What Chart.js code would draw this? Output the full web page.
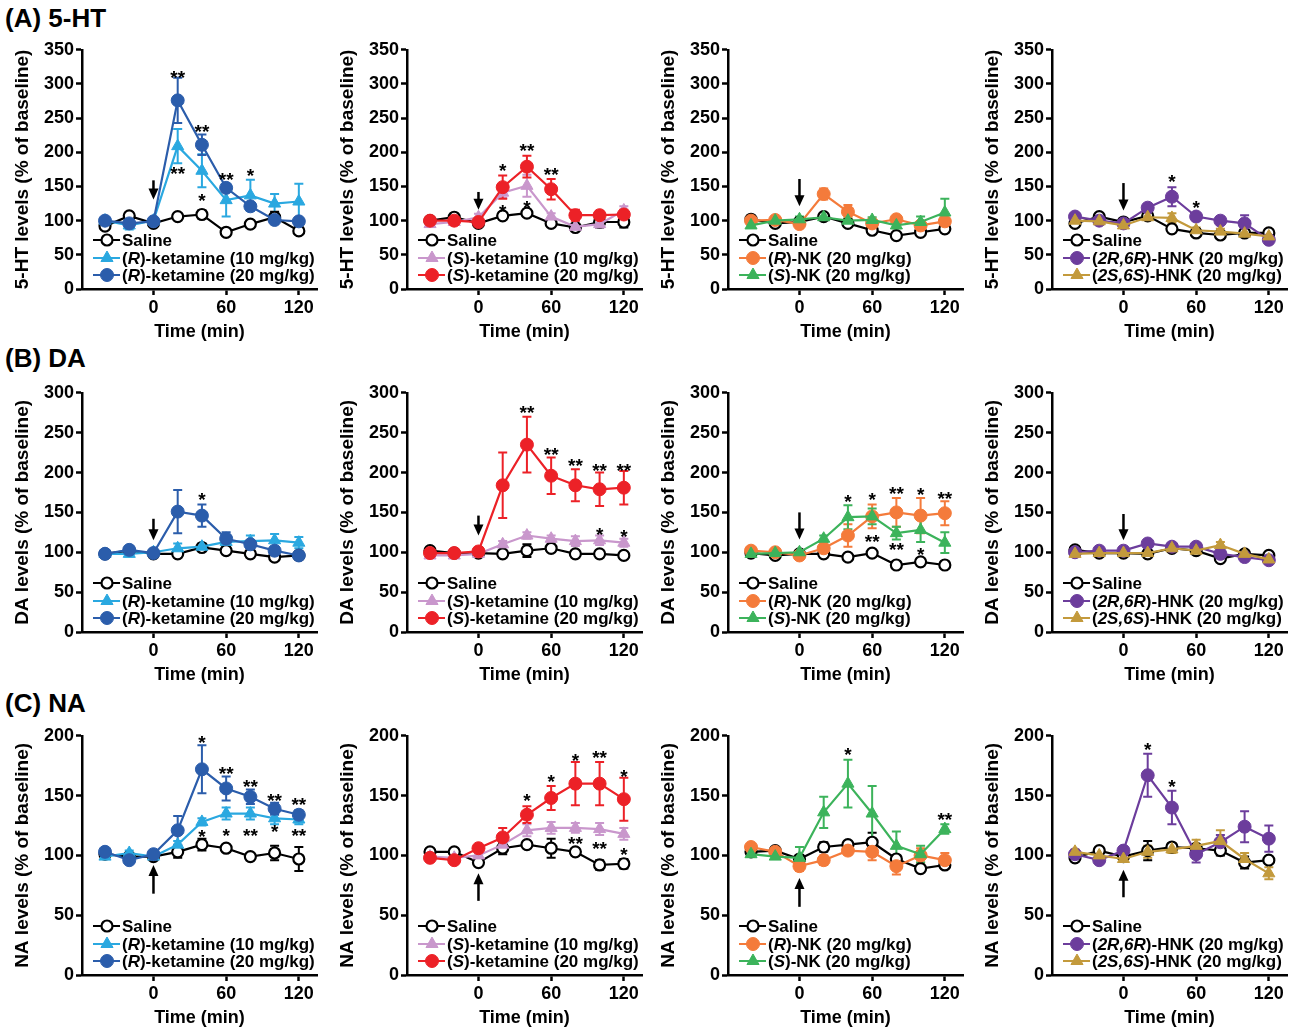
<!DOCTYPE html>
<html>
<head>
<meta charset="utf-8">
<script src="https://cdn.jsdelivr.net/npm/chart.js@4.4.1/dist/chart.umd.min.js"></script>
<style>
body { margin: 0; background: #fff; width: 1298px; height: 1031px; position: relative; overflow: hidden; font-family: "Liberation Sans", Arial, sans-serif; }
.lab { position: absolute; left: 5px; font-weight: bold; font-size: 26px; line-height: 28px; }
canvas { position: absolute; }
</style>
</head>
<body>
<div class="lab" style="top:4px">(A) 5-HT</div>
<div class="lab" style="top:344px">(B) DA</div>
<div class="lab" style="top:689px">(C) NA</div>
<script>
// sampling times (min) and axis ticks
const times = [-40, -20, 0, 20, 40, 60, 80, 100, 120];
const xTicks = [0, 60, 120];
const yMaxByRow = [350, 300, 200];
const yTitles = ["5-HT levels (% of baseline)", "DA levels (% of baseline)", "NA levels (% of baseline)"];

// ---- (A) 5-HT ----
const htRketSaline = [92, 107, 96, 106, 109, 83, 95, 105, 85];
const htRketSalineSem = [3, 3, 3, 4, 6, 3, 3, 8, 3];
const htRket10 = [100, 93, 100, 209, 173, 130, 137, 125, 128];
const htRket10Sem = [4, 6, 3, 25, 24, 24, 23, 14, 26];
const htRket20 = [100, 96, 99, 276, 211, 148, 121, 101, 99];
const htRket20Sem = [4, 3, 3, 33, 15, 5, 4, 4, 4];
const htRketStars = [[20, 316, "**"], [20, 175, "**"], [40, 237, "**"], [40, 136, "*"], [60, 166, "**"], [80, 172, "*"]];

const htSketSaline = [100, 105, 96, 107, 111, 96, 90, 98, 98];
const htSketSalineSem = [3, 3, 3, 4, 4, 4, 5, 8, 8];
const htSket10 = [95, 98, 105, 141, 151, 106, 91, 95, 115];
const htSket10Sem = [4, 3, 5, 8, 16, 5, 4, 5, 6];
const htSket20 = [100, 100, 98, 149, 179, 146, 108, 108, 109];
const htSket20Sem = [4, 3, 3, 17, 16, 15, 8, 6, 7];
const htSketStars = [[20, 179, "*"], [20, 119, "*"], [40, 208, "**"], [40, 125, "*"], [60, 173, "**"]];

const htNkSaline = [102, 96, 98, 106, 96, 86, 78, 83, 88];
const htNkSalineSem = [3, 3, 3, 3, 3, 3, 3, 4, 3];
const htRnk = [100, 101, 95, 139, 113, 96, 102, 93, 99];
const htRnkSem = [3, 3, 3, 8, 10, 4, 4, 4, 4];
const htSnk = [93, 100, 102, 105, 100, 101, 93, 98, 112];
const htSnkSem = [3, 3, 4, 4, 3, 4, 4, 8, 20];
const htNkStars = [];

const htHnkSaline = [96, 106, 98, 107, 88, 82, 79, 82, 82];
const htHnkSalineSem = [3, 3, 3, 3, 3, 3, 3, 3, 3];
const htRrHnk = [106, 100, 96, 119, 135, 106, 100, 96, 72];
const htRrHnkSem = [4, 3, 3, 4, 14, 4, 4, 12, 5];
const htSsHnk = [100, 99, 93, 105, 104, 86, 84, 81, 77];
const htSsHnkSem = [3, 3, 3, 4, 7, 4, 4, 3, 4];
const htHnkStars = [[40, 163, "*"], [60, 125, "*"]];

// ---- (B) DA ----
const daRketSaline = [98, 102, 98, 98, 106, 102, 98, 94, 96];
const daRketSalineSem = [2, 2, 2, 2, 3, 3, 3, 4, 5];
const daRket10 = [98, 98, 100, 105, 107, 113, 114, 115, 112];
const daRket10Sem = [2, 3, 3, 6, 4, 6, 7, 8, 7];
const daRket20 = [98, 103, 99, 151, 146, 117, 110, 102, 96];
const daRket20Sem = [2, 3, 2, 27, 14, 8, 5, 4, 4];
const daRketStars = [[40, 171, "*"]];

const daSketSaline = [102, 99, 99, 98, 102, 105, 98, 98, 96];
const daSketSalineSem = [2, 2, 2, 2, 8, 3, 2, 2, 2];
const daSket10 = [96, 96, 98, 110, 121, 117, 114, 115, 112];
const daSket10Sem = [3, 3, 3, 4, 4, 4, 6, 6, 5];
const daSket20 = [99, 99, 101, 184, 235, 196, 184, 179, 181];
const daSket20Sem = [3, 3, 3, 41, 35, 23, 20, 21, 21];
const daSketStars = [[40, 280, "**"], [60, 228, "**"], [80, 214, "**"], [100, 207, "**"], [120, 207, "**"], [100, 127, "*"], [120, 125, "*"]];

const daNkSaline = [99, 96, 98, 98, 94, 99, 84, 88, 84];
const daNkSalineSem = [2, 2, 2, 2, 2, 2, 2, 2, 2];
const daRnk = [102, 100, 96, 105, 121, 145, 150, 146, 149];
const daRnkSem = [2, 2, 2, 3, 14, 15, 18, 22, 15];
const daSnk = [98, 99, 100, 117, 144, 145, 124, 128, 112];
const daSnkSem = [2, 2, 2, 4, 15, 10, 8, 15, 13];
const daNkStars = [[40, 169, "*"], [60, 171, "*"], [80, 179, "**"], [100, 177, "*"], [120, 173, "**"], [60, 119, "**"], [80, 109, "**"], [100, 102, "*"]];

const daHnkSaline = [103, 99, 99, 98, 105, 102, 92, 98, 96];
const daHnkSalineSem = [2, 2, 2, 2, 2, 2, 3, 2, 2];
const daRrHnk = [100, 102, 102, 111, 107, 107, 98, 94, 90];
const daRrHnkSem = [2, 2, 2, 3, 3, 3, 3, 5, 4];
const daSsHnk = [98, 99, 99, 99, 105, 102, 109, 98, 91];
const daSsHnkSem = [2, 2, 2, 2, 3, 3, 4, 3, 5];
const daHnkStars = [];

// ---- (C) NA ----
const naRketSaline = [101, 99, 99, 103, 109, 106, 99, 102, 97];
const naRketSalineSem = [2, 2, 2, 5, 5, 2, 3, 6, 10];
const naRket10 = [99, 102, 99, 109, 128, 135, 135, 131, 130];
const naRket10Sem = [2, 2, 2, 3, 3, 5, 5, 5, 4];
const naRket20 = [103, 96, 101, 121, 172, 156, 149, 139, 134];
const naRket20Sem = [2, 2, 2, 12, 20, 10, 6, 5, 4];
const naRketStars = [[40, 198, "*"], [60, 172, "**"], [80, 161, "**"], [100, 149, "**"], [120, 146, "**"],
  [40, 119, "*"], [60, 120, "*"], [80, 120, "**"], [100, 123, "*"], [120, 120, "**"]];

const naSketSaline = [103, 103, 94, 106, 109, 106, 103, 92, 93];
const naSketSalineSem = [2, 2, 2, 5, 2, 8, 2, 4, 4];
const naSket10 = [99, 98, 100, 109, 121, 123, 123, 122, 118];
const naSket10Sem = [2, 2, 2, 3, 5, 5, 4, 5, 5];
const naSket20 = [98, 96, 106, 115, 134, 148, 160, 160, 147];
const naSket20Sem = [2, 2, 2, 8, 7, 10, 18, 18, 18];
const naSketStars = [[40, 149, "*"], [60, 165, "*"], [80, 183, "*"], [100, 185, "**"], [120, 169, "*"],
  [80, 113, "**"], [100, 109, "**"], [120, 104, "*"]];

const naNkSaline = [103, 104, 97, 107, 109, 111, 97, 89, 92];
const naNkSalineSem = [2, 2, 2, 4, 2, 8, 2, 2, 2];
const naRnk = [107, 103, 91, 96, 104, 103, 91, 100, 96];
const naRnkSem = [2, 2, 4, 4, 3, 7, 7, 6, 6];
const naSnk = [101, 99, 98, 136, 160, 135, 108, 101, 122];
const naSnkSem = [2, 2, 9, 13, 20, 23, 12, 7, 4];
const naNkStars = [[40, 188, "*"], [120, 133, "**"]];

const naHnkSaline = [98, 104, 99, 104, 107, 106, 104, 94, 96];
const naHnkSalineSem = [2, 2, 2, 8, 2, 2, 4, 5, 2];
const naRrHnk = [101, 96, 104, 167, 140, 101, 111, 124, 114];
const naRrHnkSem = [2, 2, 2, 18, 14, 7, 6, 13, 11];
const naSsHnk = [103, 100, 97, 103, 105, 108, 112, 97, 85];
const naSsHnkSem = [2, 2, 2, 5, 3, 5, 9, 5, 5];
const naHnkStars = [[20, 192, "*"], [40, 161, "*"]];

// injection arrows [tail level, tip level]
const arrowsA = [[159, 131], [142, 116], [161, 121], [155, 115]];
const arrowsB = [[142, 115], [146, 121], [150, 116], [148, 115]];
const arrowsC = [[68, 92], [62, 85], [57, 81], [65, 88]];

// legend labels ('|' toggles italic)
const lblSaline = "Saline";
const lblRket10 = "(|R|)-ketamine (10 mg/kg)";
const lblRket20 = "(|R|)-ketamine (20 mg/kg)";
const lblSket10 = "(|S|)-ketamine (10 mg/kg)";
const lblSket20 = "(|S|)-ketamine (20 mg/kg)";
const lblRnk = "(|R|)-NK (20 mg/kg)";
const lblSnk = "(|S|)-NK (20 mg/kg)";
const lblRrHnk = "(|2R,6R|)-HNK (20 mg/kg)";
const lblSsHnk = "(|2S,6S|)-HNK (20 mg/kg)";

const styles = {
  saline: { color: "#000000", fill: "#ffffff", shape: "circle", r: 5.5 },
  rket10: { color: "#2aa8e0", fill: "#2aa8e0", shape: "triangle", r: 7 },
  rket20: { color: "#2b5dab", fill: "#2b5dab", shape: "circle", r: 6.5 },
  sket10: { color: "#c997cc", fill: "#c997cc", shape: "triangle", r: 7 },
  sket20: { color: "#ec2127", fill: "#ec2127", shape: "circle", r: 6.5 },
  rnk: { color: "#f47b3b", fill: "#f47b3b", shape: "circle", r: 6.5 },
  snk: { color: "#3cb35b", fill: "#3cb35b", shape: "triangle", r: 7 },
  rrhnk: { color: "#6c3d9c", fill: "#6c3d9c", shape: "circle", r: 6.5 },
  sshnk: { color: "#c39a3c", fill: "#c39a3c", shape: "triangle", r: 7 }
};

const axisX = [82, 407, 728, 1052];
const plotTop = [49, 392, 735];
const FONT = '"Liberation Sans", Arial, sans-serif';

const panels = [
  { row: 0, col: 0, stars: htRketStars, arrow: arrowsA[0], series: [
    ["saline", lblSaline, htRketSaline, htRketSalineSem], ["rket10", lblRket10, htRket10, htRket10Sem], ["rket20", lblRket20, htRket20, htRket20Sem]] },
  { row: 0, col: 1, stars: htSketStars, arrow: arrowsA[1], series: [
    ["saline", lblSaline, htSketSaline, htSketSalineSem], ["sket10", lblSket10, htSket10, htSket10Sem], ["sket20", lblSket20, htSket20, htSket20Sem]] },
  { row: 0, col: 2, stars: htNkStars, arrow: arrowsA[2], series: [
    ["saline", lblSaline, htNkSaline, htNkSalineSem], ["rnk", lblRnk, htRnk, htRnkSem], ["snk", lblSnk, htSnk, htSnkSem]] },
  { row: 0, col: 3, stars: htHnkStars, arrow: arrowsA[3], series: [
    ["saline", lblSaline, htHnkSaline, htHnkSalineSem], ["rrhnk", lblRrHnk, htRrHnk, htRrHnkSem], ["sshnk", lblSsHnk, htSsHnk, htSsHnkSem]] },
  { row: 1, col: 0, stars: daRketStars, arrow: arrowsB[0], series: [
    ["saline", lblSaline, daRketSaline, daRketSalineSem], ["rket10", lblRket10, daRket10, daRket10Sem], ["rket20", lblRket20, daRket20, daRket20Sem]] },
  { row: 1, col: 1, stars: daSketStars, arrow: arrowsB[1], series: [
    ["saline", lblSaline, daSketSaline, daSketSalineSem], ["sket10", lblSket10, daSket10, daSket10Sem], ["sket20", lblSket20, daSket20, daSket20Sem]] },
  { row: 1, col: 2, stars: daNkStars, arrow: arrowsB[2], series: [
    ["saline", lblSaline, daNkSaline, daNkSalineSem], ["rnk", lblRnk, daRnk, daRnkSem], ["snk", lblSnk, daSnk, daSnkSem]] },
  { row: 1, col: 3, stars: daHnkStars, arrow: arrowsB[3], series: [
    ["saline", lblSaline, daHnkSaline, daHnkSalineSem], ["rrhnk", lblRrHnk, daRrHnk, daRrHnkSem], ["sshnk", lblSsHnk, daSsHnk, daSsHnkSem]] },
  { row: 2, col: 0, stars: naRketStars, arrow: arrowsC[0], series: [
    ["saline", lblSaline, naRketSaline, naRketSalineSem], ["rket10", lblRket10, naRket10, naRket10Sem], ["rket20", lblRket20, naRket20, naRket20Sem]] },
  { row: 2, col: 1, stars: naSketStars, arrow: arrowsC[1], series: [
    ["saline", lblSaline, naSketSaline, naSketSalineSem], ["sket10", lblSket10, naSket10, naSket10Sem], ["sket20", lblSket20, naSket20, naSket20Sem]] },
  { row: 2, col: 2, stars: naNkStars, arrow: arrowsC[2], series: [
    ["saline", lblSaline, naNkSaline, naNkSalineSem], ["rnk", lblRnk, naRnk, naRnkSem], ["snk", lblSnk, naSnk, naSnkSem]] },
  { row: 2, col: 3, stars: naHnkStars, arrow: arrowsC[3], series: [
    ["saline", lblSaline, naHnkSaline, naHnkSalineSem], ["rrhnk", lblRrHnk, naRrHnk, naRrHnkSem], ["sshnk", lblSsHnk, naSsHnk, naSsHnkSem]] }
];

function drawRich(ctx, text, x, y) {
  text.split("|").forEach((seg, k) => {
    ctx.font = (k % 2 ? "italic " : "") + "bold 17px " + FONT;
    ctx.fillText(seg, x, y);
    x += ctx.measureText(seg).width;
  });
}

function drawArrow(ctx, x, y0, y1) {
  const dir = y1 > y0 ? 1 : -1;
  ctx.save();
  ctx.strokeStyle = "#000";
  ctx.fillStyle = "#000";
  ctx.lineWidth = 2.5;
  ctx.beginPath();
  ctx.moveTo(x, y0);
  ctx.lineTo(x, y1 - dir * 8);
  ctx.stroke();
  ctx.beginPath();
  ctx.moveTo(x, y1);
  ctx.lineTo(x - 5, y1 - dir * 11);
  ctx.lineTo(x + 5, y1 - dir * 11);
  ctx.closePath();
  ctx.fill();
  ctx.restore();
}

const extras = {
  id: "extras",
  beforeDatasetsDraw(chart) {
    const { ctx, scales: { x, y } } = chart;
    chart.data.datasets.forEach(ds => {
      ctx.save();
      ctx.strokeStyle = ds.borderColor;
      ctx.lineWidth = 2;
      ds.sem.forEach((e, i) => {
        const px = x.getPixelForValue(ds.data[i].x);
        const top = y.getPixelForValue(ds.data[i].y + e);
        const bot = y.getPixelForValue(ds.data[i].y - e);
        ctx.beginPath();
        ctx.moveTo(px, top); ctx.lineTo(px, bot);
        ctx.moveTo(px - 4.5, top); ctx.lineTo(px + 4.5, top);
        ctx.moveTo(px - 4.5, bot); ctx.lineTo(px + 4.5, bot);
        ctx.stroke();
      });
      ctx.restore();
    });
  },
  afterDatasetsDraw(chart) {
    const { ctx, chartArea, scales: { x, y } } = chart;
    const p = chart.options.plugins.extras;
    // significance marks
    ctx.save();
    ctx.fillStyle = "#000";
    ctx.font = "bold 19px " + FONT;
    ctx.textAlign = "center";
    ctx.textBaseline = "alphabetic";
    p.stars.forEach(([t, v, s]) => {
      ctx.fillText(s, x.getPixelForValue(t), y.getPixelForValue(v) + 10.5);
    });
    ctx.restore();
    // injection arrow
    drawArrow(ctx, x.getPixelForValue(0), y.getPixelForValue(p.arrow[0]), y.getPixelForValue(p.arrow[1]));
    // legend
    const offs = [49, 31, 14];
    chart.data.datasets.forEach((ds, i) => {
      const ly = chartArea.bottom - offs[i];
      const lx = chartArea.left;
      ctx.save();
      ctx.strokeStyle = ds.borderColor;
      ctx.lineWidth = 2;
      ctx.beginPath();
      ctx.moveTo(lx + 11, ly); ctx.lineTo(lx + 38, ly);
      ctx.stroke();
      ctx.fillStyle = ds.pointBackgroundColor;
      ctx.strokeStyle = ds.borderColor;
      ctx.lineWidth = ds.pointBorderWidth;
      Chart.helpers.drawPoint(ctx, { pointStyle: ds.pointStyle, radius: ds.pointRadius, rotation: 0, borderWidth: ds.pointBorderWidth }, lx + 25, ly);
      ctx.fillStyle = "#000";
      ctx.textBaseline = "middle";
      ctx.textAlign = "left";
      drawRich(ctx, ds.label, lx + 40, ly + 1);
      ctx.restore();
    });
  }
};

Chart.defaults.font.family = FONT;

panels.forEach(pn => {
  const cv = document.createElement("canvas");
  const left = axisX[pn.col] - 80;
  const top = plotTop[pn.row] - 12;
  const w = Math.min(324, 1298 - left);
  cv.width = w; cv.height = 312;
  cv.style.left = left + "px";
  cv.style.top = top + "px";
  cv.style.width = w + "px"; cv.style.height = "312px";
  document.body.appendChild(cv);

  const datasets = pn.series.map(([key, label, vals, sem], i) => {
    const st = styles[key];
    return {
      label: label,
      data: vals.map((v, k) => ({ x: times[k], y: v })),
      sem: sem,
      borderColor: st.color,
      backgroundColor: st.fill,
      pointBackgroundColor: st.fill,
      pointBorderColor: st.color,
      pointBorderWidth: key === "saline" ? 2.2 : 1,
      pointRadius: st.r,
      pointStyle: st.shape,
      borderWidth: 2.2,
      tension: 0,
      order: 3 - i
    };
  });

  const axisBorder = { display: true, color: "#000", width: 2.5 };
  const axisGrid = { display: true, drawOnChartArea: false, drawTicks: true, tickLength: 6, tickWidth: 2.5, tickColor: "#000" };

  new Chart(cv, {
    type: "line",
    data: { datasets },
    plugins: [extras],
    options: {
      responsive: false,
      animation: false,
      events: [],
      layout: { padding: { top: 12, right: w - 315, left: 0, bottom: 0 } },
      plugins: {
        legend: { display: false },
        tooltip: { enabled: false },
        extras: { stars: pn.stars, arrow: pn.arrow }
      },
      scales: {
        x: {
          type: "linear",
          min: -59,
          max: 135,
          afterBuildTicks: s => { s.ticks = xTicks.map(v => ({ value: v })); },
          afterFit: s => { s.height = 60; },
          border: axisBorder,
          grid: axisGrid,
          ticks: { color: "#000", font: { size: 18, weight: "bold" }, padding: 2, maxRotation: 0 },
          title: { display: true, text: "Time (min)", color: "#000", font: { size: 18, weight: "bold" }, padding: { bottom: 6 } }
        },
        y: {
          min: 0,
          max: yMaxByRow[pn.row],
          afterFit: s => { s.width = 80; },
          border: axisBorder,
          grid: axisGrid,
          ticks: { stepSize: 50, color: "#000", font: { size: 18, weight: "bold" }, padding: 2 },
          title: { display: true, text: yTitles[pn.row], color: "#000", font: { size: 19, weight: "bold" }, padding: { top: 9 } }
        }
      }
    }
  });
});
</script>
</body>
</html>
